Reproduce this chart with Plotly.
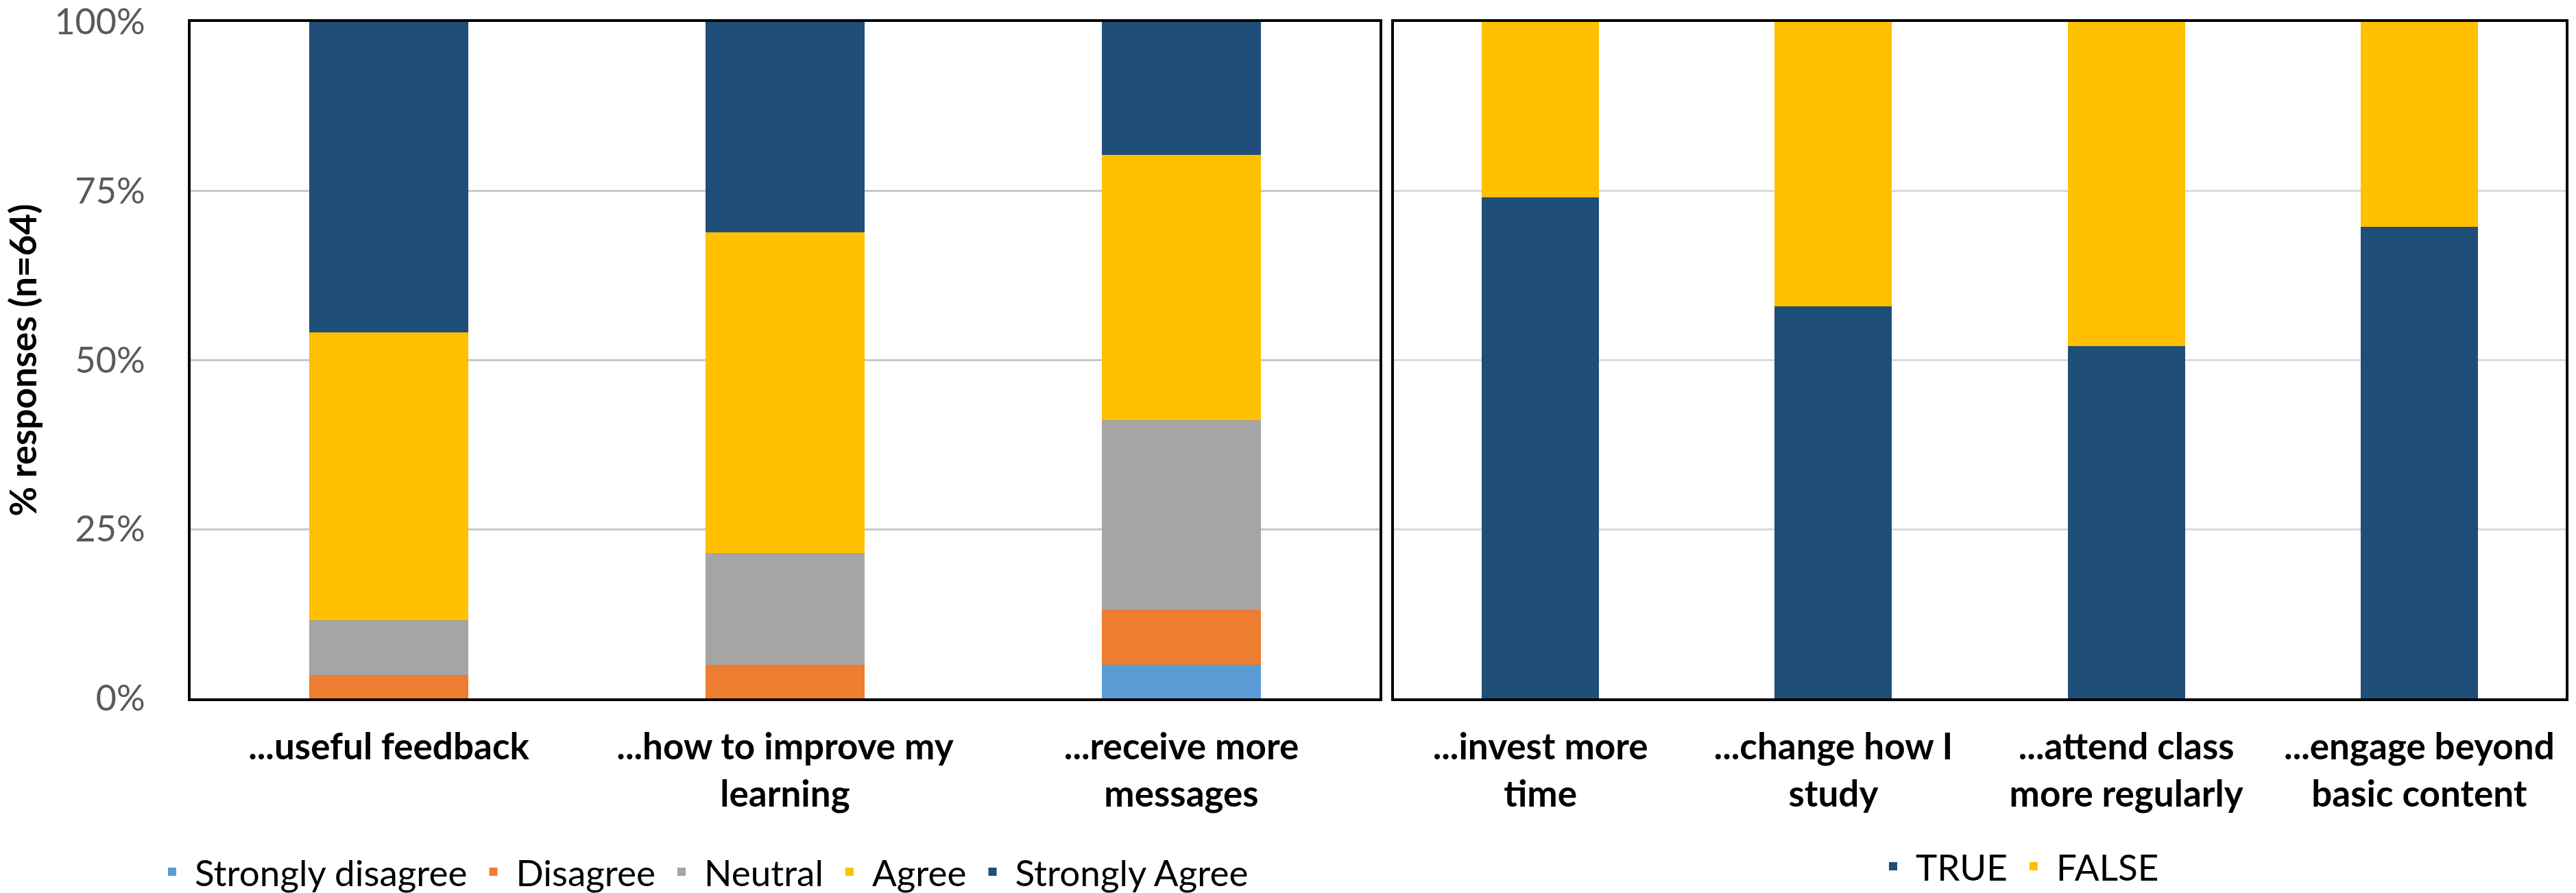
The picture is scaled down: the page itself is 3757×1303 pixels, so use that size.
import plotly.graph_objects as go

W, H = 3757, 1303

# ---- data (left panel: Likert, right panel: TRUE/FALSE) ----
likert_categories = ["...useful feedback", "...how to improve my<br>learning", "...receive more<br>messages"]
strongly_disagree = [0.000, 0.000, 0.050]
disagree = [0.034, 0.050, 0.081]
neutral = [0.081, 0.165, 0.280]
agree = [0.426, 0.474, 0.392]
strongly_agree = [0.459, 0.311, 0.197]

tf_categories = ["...invest more<br>time", "...change how I<br>study", "...attend class<br>more regularly",
                 "...engage beyond<br>basic content"]
true_vals = [0.741, 0.580, 0.521, 0.697]
false_vals = [0.259, 0.420, 0.479, 0.303]

y_tick_vals = [0, 0.25, 0.5, 0.75, 1.0]
y_tick_text = ["0%", "25%", "50%", "75%", "100%"]

# ---- styles ----
FONT = "Lato"
C_SD, C_D, C_N, C_A, C_SA = "#5B9BD5", "#ED7D31", "#A5A5A5", "#FFC000", "#1F4E79"

fig = go.Figure()
likert_series = [
    ("Strongly disagree", strongly_disagree, C_SD),
    ("Disagree", disagree, C_D),
    ("Neutral", neutral, C_N),
    ("Agree", agree, C_A),
    ("Strongly Agree", strongly_agree, C_SA),
]
for name, vals, col in likert_series:
    fig.add_trace(go.Bar(x=likert_categories, y=vals, name=name, marker=dict(color=col, line=dict(width=0)),
                         xaxis="x", yaxis="y", legend="legend"))

for name, vals, col in [("TRUE", true_vals, C_SA), ("FALSE", false_vals, C_A)]:
    fig.add_trace(go.Bar(x=tf_categories, y=vals, name=name, marker=dict(color=col, line=dict(width=0)),
                         xaxis="x2", yaxis="y2", legend="legend2"))

x1_dom = [278 / W, 2012 / W]
x2_dom = [2033 / W, 3742 / W]
y_dom = [(H - 1019) / H, (H - 32) / H]

axis_common = dict(showline=True, linecolor="black", linewidth=4, mirror=True, ticks="", automargin=False)

fig.update_layout(
    width=W, height=H,
    margin=dict(l=0, r=0, t=0, b=0, autoexpand=False),
    paper_bgcolor="white", plot_bgcolor="white",
    barmode="stack", bargap=0.6,
    font=dict(family=FONT, color="black", size=53),
    xaxis=dict(domain=x1_dom, anchor="y", showgrid=False, ticklabelstandoff=21,
               tickfont=dict(family=FONT, size=53, color="black", weight="bold"), **axis_common),
    xaxis2=dict(domain=x2_dom, anchor="y2", showgrid=False, ticklabelstandoff=21,
                tickfont=dict(family=FONT, size=53, color="black", weight="bold"), **axis_common),
    yaxis=dict(domain=y_dom, anchor="x", range=[0, 1], tickvals=y_tick_vals, ticktext=y_tick_text,
               showgrid=True, gridcolor="#C8C8C8", gridwidth=3, zeroline=False, ticklabelstandoff=52,
               ticklabeloverflow="allow",
               tickfont=dict(family=FONT, size=52, color="#595959"),
               title=dict(text="% responses (n=64)", standoff=10,
                          font=dict(family=FONT, size=53, color="black", weight="bold")),
               **axis_common),
    yaxis2=dict(domain=y_dom, anchor="x2", range=[0, 1], tickvals=y_tick_vals, showticklabels=False,
                showgrid=True, gridcolor="#DADADA", gridwidth=3, zeroline=False, **axis_common),
    legend=dict(orientation="h", x=1022 / W, xanchor="center", y=(H - 1272) / H, yanchor="middle",
                traceorder="normal", itemwidth=56, font=dict(family=FONT, size=53, color="black"),
                bgcolor="rgba(0,0,0,0)"),
    legend2=dict(orientation="h", x=2941 / W, xanchor="center", y=(H - 1264) / H, yanchor="middle",
                 traceorder="normal", itemwidth=56, font=dict(family=FONT, size=53, color="black"),
                 bgcolor="rgba(0,0,0,0)"),
)

fig.write_html("out.html", config={"displayModeBar": False},
               post_script="document.body.style.margin='0';document.body.style.overflow='hidden';")
